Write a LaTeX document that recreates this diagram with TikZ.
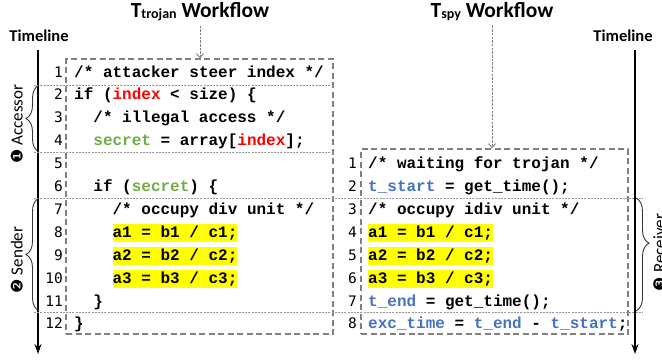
\documentclass[tikz,border=0pt]{standalone}
\usepackage{fontspec}
\usetikzlibrary{arrows.meta,decorations.pathreplacing}

\newfontfamily\codefont{Liberation Mono}
\newfontfamily\numfont{DejaVu Sans Mono}
\newfontfamily\labelfont{Carlito}
\newfontfamily\circfont{DejaVu Sans}

\definecolor{codered}{RGB}{255,0,0}
\definecolor{codegreen}{RGB}{112,173,71}
\definecolor{codeblue}{RGB}{68,114,196}
\definecolor{hlyellow}{RGB}{255,255,0}
\definecolor{boxgray}{RGB}{128,128,128}
\definecolor{sepgray}{RGB}{150,150,150}

\newcommand{\cred}[1]{\textcolor{codered}{#1}}
\newcommand{\cgreen}[1]{\textcolor{codegreen}{#1}}
\newcommand{\cblue}[1]{\textcolor{codeblue}{#1}}

\tikzset{
  codebox/.style={draw=boxgray, line width=1.3pt, dash pattern=on 6pt off 3.5pt, inner sep=0pt},
  sepline/.style={draw=sepgray, line width=0.9pt, dash pattern=on 2pt off 1.2pt},
  flowarrow/.style={draw=boxgray, line width=1pt, dash pattern=on 2.5pt off 1.2pt, -{Straight Barb[length=4pt,width=7pt]}},
  timeline/.style={draw=black, line width=2pt, -{Stealth[length=10pt,width=7pt]}},
  codebrace/.style={draw=black!80, line width=0.9pt, decorate, decoration={brace, amplitude=13pt}},
  wftitle/.style={anchor=base, inner sep=2pt, font=\labelfont\bfseries\fontsize{21.5}{25}\selectfont},
  tlabel/.style={anchor=base, inner sep=2pt, font=\labelfont\bfseries\fontsize{16.5}{19}\selectfont},
  sidelabel/.style={rotate=90, inner sep=1pt, font=\labelfont\fontsize{17}{19}\selectfont},
  codeline/.style={anchor=base west, inner xsep=0pt, inner ysep=0pt, text height=13.3pt, text depth=4.4pt, font=\codefont\bfseries\fontsize{16}{18}\selectfont},
  hl/.style={fill=hlyellow},
  linenum/.style={anchor=base east, inner sep=0pt, font=\numfont\fontsize{14.5}{16}\selectfont}
}

\begin{document}
\begin{tikzpicture}[x=1pt, y=-1pt]
\useasboundingbox (0,0) rectangle (662,360);

% titles and timelines
\node[wftitle] (ttitle) at (200,17) {T\raisebox{-1pt}{\fontsize{14}{14}\selectfont trojan} Workflow};
\node[wftitle] (stitle) at (492,17) {T\raisebox{-1pt}{\fontsize{14}{14}\selectfont spy} Workflow};
\node[tlabel] (tlleft) at (39,41.7) {Timeline};
\node[tlabel] (tlright) at (623,41.7) {Timeline};
\coordinate (ltop) at (38,50);
\coordinate (lbot) at (38,354);
\coordinate (rtop) at (635,50);
\coordinate (rbot) at (635,354);
\draw[timeline] (ltop) -- (lbot);
\draw[timeline] (rtop) -- (rbot);

% code boxes
\node[codebox, minimum width=267, minimum height=275] (tbox) at (199.5,196.5) {};
\node[codebox, minimum width=267, minimum height=185] (sbox) at (494.5,241.5) {};
\draw[flowarrow, shorten <=3pt] (ttitle.south) -- (ttitle.south |- tbox.north);
\draw[flowarrow, shorten <=3pt] (stitle.south) -- (stitle.south |- sbox.north);

% phase separators
\draw[sepline] (34,85) -- (333,85);
\draw[sepline] (34,152) -- (333,152);
\draw[sepline] (34,198) -- (643,198);
\draw[sepline] (34,312) -- (643,312);

% phases
\coordinate (acctop) at (39,85);
\coordinate (accbot) at (39,152);
\coordinate (sndtop) at (39,198);
\coordinate (sndbot) at (39,311);
\coordinate (rcvtop) at (636,198);
\coordinate (rcvbot) at (636,311);
\draw[codebrace] (accbot) -- (acctop);
\draw[codebrace] (sndbot) -- (sndtop);
\draw[codebrace, decoration={aspect=0.4}] (rcvtop) -- (rcvbot);
\node[sidelabel, anchor=south] (acclabel) at (24,124) {{\circfont\fontsize{16}{18}\selectfont ❶} Accessor};
\node[sidelabel, anchor=south] (sndlabel) at (24,260) {{\circfont\fontsize{16}{18}\selectfont ❷} Sender};
\node[sidelabel, anchor=north] (rcvlabel) at (652,252.5) {{\circfont\fontsize{16}{18}\selectfont ❸} Receiver};

% trojan code
\node[linenum] (tn1) at (63,77) {1};
\node[linenum] (tn2) at (63,99.9) {2};
\node[linenum] (tn3) at (63,122.8) {3};
\node[linenum] (tn4) at (63,145.7) {4};
\node[linenum] (tn5) at (63,168.6) {5};
\node[linenum] (tn6) at (63,191.5) {6};
\node[linenum] (tn7) at (63,214.4) {7};
\node[linenum] (tn8) at (63,237.3) {8};
\node[linenum] (tn9) at (63,260.2) {9};
\node[linenum] (tn10) at (63,283.1) {10};
\node[linenum] (tn11) at (63,306) {11};
\node[linenum] (tn12) at (63,328.9) {12};
\node[codeline] (t1) at (74,77) {/* attacker steer index */};
\node[codeline] (t2) at (74,99.9) {if (\cred{index} < size) \{};
\node[codeline] (t3) at (93.2,122.8) {/* illegal access */};
\node[codeline] (t4) at (93.2,145.7) {\cgreen{secret} = array[\cred{index}];};
\node[codeline] (t6) at (93.2,191.5) {if (\cgreen{secret}) \{};
\node[codeline] (t7) at (112.4,214.4) {/* occupy div unit */};
\node[codeline, hl] (t8) at (112.4,237.3) {a1 = b1 / c1;};
\node[codeline, hl] (t9) at (112.4,260.2) {a2 = b2 / c2;};
\node[codeline, hl] (t10) at (112.4,283.1) {a3 = b3 / c3;};
\node[codeline] (t11) at (93.2,306) {\}};
\node[codeline] (t12) at (74,328.9) {\}};

% spy code
\node[linenum] (sn1) at (357,168.6) {1};
\node[linenum] (sn2) at (357,191.5) {2};
\node[linenum] (sn3) at (357,214.4) {3};
\node[linenum] (sn4) at (357,237.3) {4};
\node[linenum] (sn5) at (357,260.2) {5};
\node[linenum] (sn6) at (357,283.1) {6};
\node[linenum] (sn7) at (357,306) {7};
\node[linenum] (sn8) at (357,328.9) {8};
\node[codeline] (s1) at (368,168.6) {/* waiting for trojan */};
\node[codeline] (s2) at (368,191.5) {\cblue{t\_start} = get\_time();};
\node[codeline] (s3) at (368,214.4) {/* occupy idiv unit */};
\node[codeline, hl] (s4) at (368,237.3) {a1 = b1 / c1;};
\node[codeline, hl] (s5) at (368,260.2) {a2 = b2 / c2;};
\node[codeline, hl] (s6) at (368,283.1) {a3 = b3 / c3;};
\node[codeline] (s7) at (368,306) {\cblue{t\_end} = get\_time();};
\node[codeline] (s8) at (368,328.9) {\cblue{exc\_time} = \cblue{t\_end} - \cblue{t\_start};};
\end{tikzpicture}
\end{document}
